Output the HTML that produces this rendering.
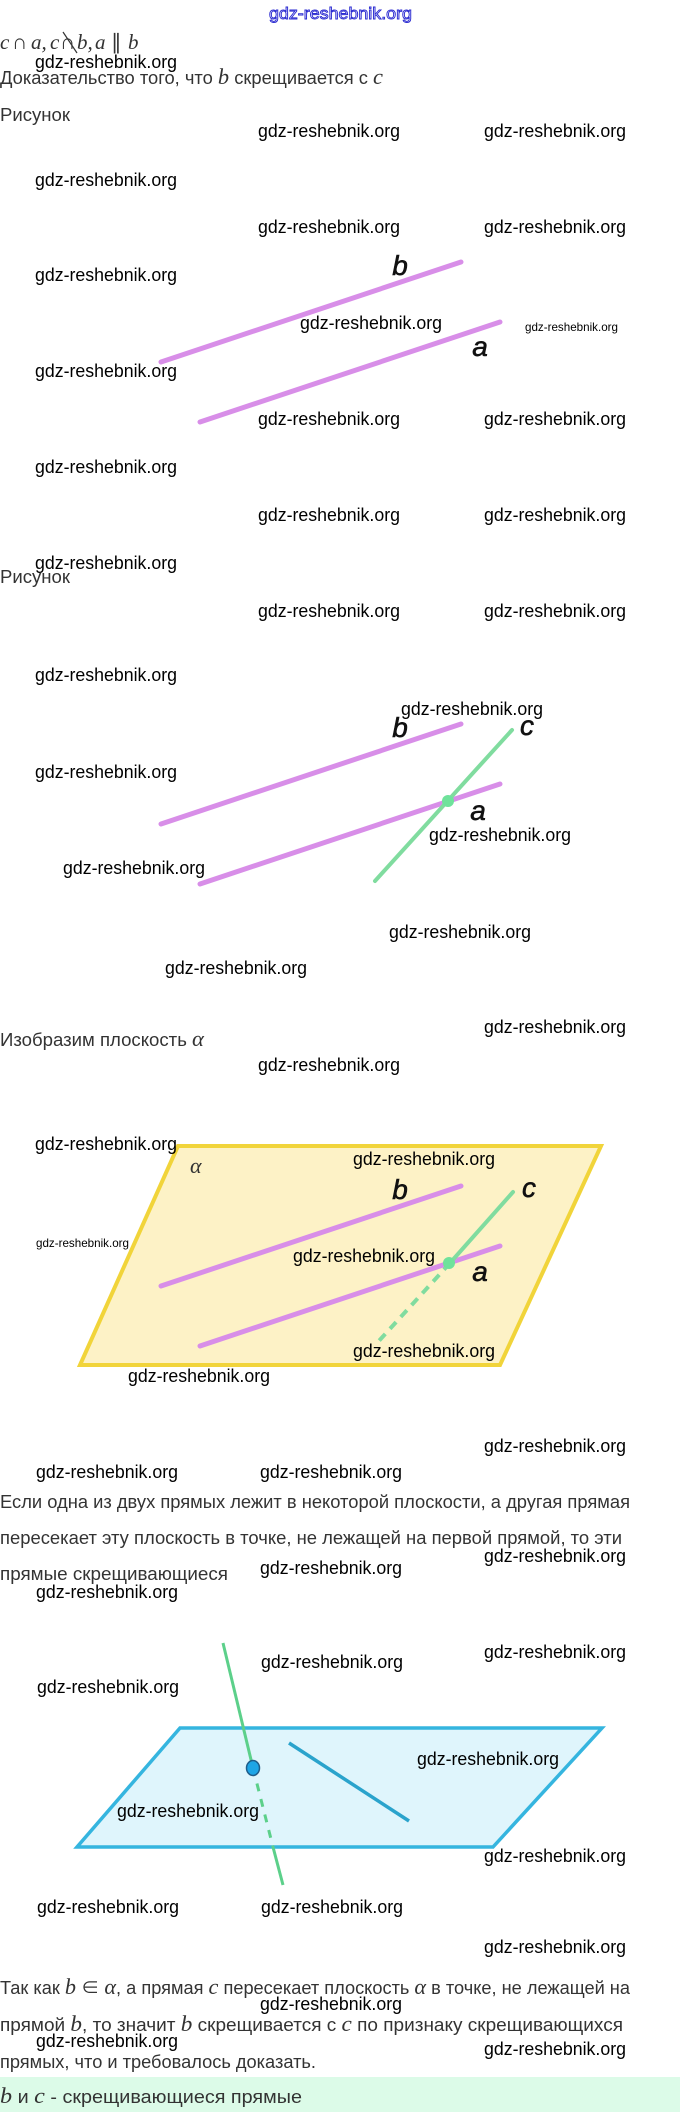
<!DOCTYPE html>
<html>
<head>
<meta charset="utf-8">
<style>
html,body{margin:0;padding:0;background:#fff;}
body{width:680px;height:2112px;overflow:hidden;position:relative;}
svg{position:absolute;left:0;top:0;display:block;}
.t{font-family:"Liberation Sans","Noto Sans CJK SC",sans-serif;font-size:18px;fill:#333;}
.m{font-family:"Liberation Serif",serif;font-style:italic;font-size:21px;fill:#333;}
.w{font-family:"Liberation Sans",sans-serif;font-size:18px;fill:#000;}
.ws{font-family:"Liberation Sans",sans-serif;font-size:12px;fill:#000;}
.lb{font-family:"Liberation Sans",sans-serif;font-style:italic;font-size:28px;fill:#111;stroke:#111;stroke-width:0.6;text-anchor:middle;}
</style>
</head>
<body>
<svg width="680" height="2112" viewBox="0 0 680 2112" xmlns="http://www.w3.org/2000/svg">
  <rect x="0" y="0" width="680" height="2112" fill="#fff"/>

  <!-- top blue watermark -->
  <text x="269" y="19" textLength="143" lengthAdjust="spacingAndGlyphs" style="font-family:'Liberation Sans',sans-serif;font-size:17px;fill:#f0f0ff;stroke:#2a2ad0;stroke-width:0.9;">gdz-reshebnik.org</text>

  <!-- math line -->
  <text class="m" y="49">
    <tspan x="0">c</tspan>
    <tspan x="12" style="font-style:normal">∩</tspan>
    <tspan x="31">a,</tspan>
    <tspan x="50">c</tspan>
    <tspan x="60" style="font-style:normal">∩</tspan>
    <tspan x="77">b,</tspan>
    <tspan x="95">a</tspan>
    <tspan x="111" style="font-style:normal">∥</tspan>
    <tspan x="128">b</tspan>
  </text>
  <line x1="63" y1="32" x2="77" y2="53" stroke="#333" stroke-width="1.2"/>

  <!-- body text -->
  <text class="t" x="0" y="84" textLength="383" lengthAdjust="spacingAndGlyphs">Доказательство того, что <tspan class="m" style="font-size:22px">b</tspan> скрещивается с <tspan class="m" style="font-size:22px">c</tspan></text>
  <text class="t" x="0" y="121" textLength="70" lengthAdjust="spacingAndGlyphs">Рисунок</text>
  <text class="t" x="0" y="583" textLength="70" lengthAdjust="spacingAndGlyphs">Рисунок</text>
  <text class="t" x="0" y="1046" textLength="204" lengthAdjust="spacingAndGlyphs">Изобразим плоскость <tspan class="m" style="font-size:22px">α</tspan></text>

  <text class="t" x="0" y="1508" textLength="630" lengthAdjust="spacingAndGlyphs">Если одна из двух прямых лежит в некоторой плоскости, а другая прямая</text>
  <text class="t" x="0" y="1544" textLength="622" lengthAdjust="spacingAndGlyphs">пересекает эту плоскость в точке, не лежащей на первой прямой, то эти</text>
  <text class="t" x="0" y="1580" textLength="228" lengthAdjust="spacingAndGlyphs">прямые скрещивающиеся</text>

  <text class="t" x="0" y="1994" textLength="630" lengthAdjust="spacingAndGlyphs">Так как <tspan class="m" style="font-size:22px">b</tspan> ∈ <tspan class="m" style="font-size:22px">α</tspan>, а прямая <tspan class="m" style="font-size:22px">c</tspan> пересекает плоскость <tspan class="m" style="font-size:22px">α</tspan> в точке, не лежащей на</text>
  <text class="t" x="0" y="2031" textLength="623" lengthAdjust="spacingAndGlyphs">прямой <tspan class="m" style="font-size:22px">b</tspan>, то значит <tspan class="m" style="font-size:22px">b</tspan> скрещивается с <tspan class="m" style="font-size:22px">c</tspan> по признаку скрещивающихся</text>
  <text class="t" x="0" y="2068" textLength="316" lengthAdjust="spacingAndGlyphs">прямых, что и требовалось доказать.</text>

  <!-- green bar -->
  <rect x="0" y="2077" width="680" height="35" fill="#dcfbe8"/>
  <text class="t" x="0" y="2103" textLength="302" lengthAdjust="spacingAndGlyphs"><tspan class="m" style="font-size:22px">b</tspan> и <tspan class="m" style="font-size:22px">c</tspan> - скрещивающиеся прямые</text>

  <!-- FIGURE 1 -->
  <g stroke="#d88ee8" stroke-width="5" stroke-linecap="round" fill="none">
    <line x1="161" y1="362" x2="461" y2="262"/>
    <line x1="200" y1="422" x2="500" y2="322"/>
  </g>
  <text class="lb" x="400" y="275">b</text>
  <text class="lb" x="480" y="356">a</text>

  <!-- FIGURE 2 -->
  <g stroke="#d88ee8" stroke-width="5" stroke-linecap="round" fill="none">
    <line x1="161" y1="824" x2="461" y2="724"/>
    <line x1="200" y1="884" x2="500" y2="784"/>
  </g>
  <line x1="375" y1="881" x2="512" y2="730" stroke="#80dc9f" stroke-width="4" stroke-linecap="round"/>
  <circle cx="448" cy="801" r="6" fill="#6fe29b"/>
  <text class="lb" x="400" y="737">b</text>
  <text class="lb" x="527" y="735">c</text>
  <text class="lb" x="478" y="820">a</text>

  <!-- FIGURE 3 -->
  <polygon points="178,1146 601,1146 500,1365 80,1365" fill="#fdf2c6" stroke="#f1d43a" stroke-width="4" stroke-linejoin="miter"/>
  <g stroke="#d88ee8" stroke-width="5" stroke-linecap="round" fill="none">
    <line x1="161" y1="1286" x2="461" y2="1186"/>
    <line x1="200" y1="1346" x2="500" y2="1246"/>
  </g>
  <line x1="513" y1="1192" x2="450" y2="1263" stroke="#80dc9f" stroke-width="4" stroke-linecap="round"/>
  <line x1="450" y1="1263" x2="377" y2="1343" stroke="#80dc9f" stroke-width="4" stroke-dasharray="9 7"/>
  <circle cx="449" cy="1263" r="6" fill="#6fe29b"/>
  <text class="lb" x="400" y="1199">b</text>
  <text class="lb" x="529" y="1197">c</text>
  <text class="lb" x="480" y="1281">a</text>
  <text class="m" x="190" y="1173" style="font-size:22px">α</text>

  <!-- FIGURE 4 -->
  <polygon points="180,1728 602,1728 493,1847 77,1847" fill="#dff5fc" stroke="#35b5df" stroke-width="3.5"/>
  <line x1="289" y1="1743" x2="409" y2="1821" stroke="#2aa3cc" stroke-width="3.5"/>
  <line x1="223" y1="1643" x2="253" y2="1768" stroke="#5cd08a" stroke-width="3"/>
  <line x1="253" y1="1768" x2="273" y2="1847" stroke="#5cd08a" stroke-width="3" stroke-dasharray="8 8"/>
  <line x1="273" y1="1847" x2="283" y2="1885" stroke="#5cd08a" stroke-width="3"/>
  <ellipse cx="253" cy="1768" rx="6.5" ry="7.5" fill="#1ea5e6" stroke="#1f5d8a" stroke-width="1.5"/>

  <!-- watermarks -->
  <g class="w">
    <text class="w" x="35" y="68" textLength="142" lengthAdjust="spacingAndGlyphs">gdz-reshebnik.org</text>
    <text class="w" x="258" y="137" textLength="142" lengthAdjust="spacingAndGlyphs">gdz-reshebnik.org</text>
    <text class="w" x="484" y="137" textLength="142" lengthAdjust="spacingAndGlyphs">gdz-reshebnik.org</text>
    <text class="w" x="35" y="186" textLength="142" lengthAdjust="spacingAndGlyphs">gdz-reshebnik.org</text>
    <text class="w" x="258" y="233" textLength="142" lengthAdjust="spacingAndGlyphs">gdz-reshebnik.org</text>
    <text class="w" x="484" y="233" textLength="142" lengthAdjust="spacingAndGlyphs">gdz-reshebnik.org</text>
    <text class="w" x="35" y="281" textLength="142" lengthAdjust="spacingAndGlyphs">gdz-reshebnik.org</text>
    <text class="w" x="300" y="329" textLength="142" lengthAdjust="spacingAndGlyphs">gdz-reshebnik.org</text>
    <text class="ws" x="525" y="331" textLength="93" lengthAdjust="spacingAndGlyphs">gdz-reshebnik.org</text>
    <text class="w" x="35" y="377" textLength="142" lengthAdjust="spacingAndGlyphs">gdz-reshebnik.org</text>
    <text class="w" x="258" y="425" textLength="142" lengthAdjust="spacingAndGlyphs">gdz-reshebnik.org</text>
    <text class="w" x="484" y="425" textLength="142" lengthAdjust="spacingAndGlyphs">gdz-reshebnik.org</text>
    <text class="w" x="35" y="473" textLength="142" lengthAdjust="spacingAndGlyphs">gdz-reshebnik.org</text>
    <text class="w" x="258" y="521" textLength="142" lengthAdjust="spacingAndGlyphs">gdz-reshebnik.org</text>
    <text class="w" x="484" y="521" textLength="142" lengthAdjust="spacingAndGlyphs">gdz-reshebnik.org</text>
    <text class="w" x="35" y="569" textLength="142" lengthAdjust="spacingAndGlyphs">gdz-reshebnik.org</text>
    <text class="w" x="258" y="617" textLength="142" lengthAdjust="spacingAndGlyphs">gdz-reshebnik.org</text>
    <text class="w" x="484" y="617" textLength="142" lengthAdjust="spacingAndGlyphs">gdz-reshebnik.org</text>
    <text class="w" x="35" y="681" textLength="142" lengthAdjust="spacingAndGlyphs">gdz-reshebnik.org</text>
    <text class="w" x="401" y="715" textLength="142" lengthAdjust="spacingAndGlyphs">gdz-reshebnik.org</text>
    <text class="w" x="35" y="778" textLength="142" lengthAdjust="spacingAndGlyphs">gdz-reshebnik.org</text>
    <text class="w" x="429" y="841" textLength="142" lengthAdjust="spacingAndGlyphs">gdz-reshebnik.org</text>
    <text class="w" x="63" y="874" textLength="142" lengthAdjust="spacingAndGlyphs">gdz-reshebnik.org</text>
    <text class="w" x="389" y="938" textLength="142" lengthAdjust="spacingAndGlyphs">gdz-reshebnik.org</text>
    <text class="w" x="165" y="974" textLength="142" lengthAdjust="spacingAndGlyphs">gdz-reshebnik.org</text>
    <text class="w" x="484" y="1033" textLength="142" lengthAdjust="spacingAndGlyphs">gdz-reshebnik.org</text>
    <text class="w" x="258" y="1071" textLength="142" lengthAdjust="spacingAndGlyphs">gdz-reshebnik.org</text>
    <text class="w" x="35" y="1150" textLength="142" lengthAdjust="spacingAndGlyphs">gdz-reshebnik.org</text>
    <text class="w" x="353" y="1165" textLength="142" lengthAdjust="spacingAndGlyphs">gdz-reshebnik.org</text>
    <text class="ws" x="36" y="1247" textLength="93" lengthAdjust="spacingAndGlyphs">gdz-reshebnik.org</text>
    <text class="w" x="293" y="1262" textLength="142" lengthAdjust="spacingAndGlyphs">gdz-reshebnik.org</text>
    <text class="w" x="353" y="1357" textLength="142" lengthAdjust="spacingAndGlyphs">gdz-reshebnik.org</text>
    <text class="w" x="128" y="1382" textLength="142" lengthAdjust="spacingAndGlyphs">gdz-reshebnik.org</text>
    <text class="w" x="484" y="1452" textLength="142" lengthAdjust="spacingAndGlyphs">gdz-reshebnik.org</text>
    <text class="w" x="36" y="1478" textLength="142" lengthAdjust="spacingAndGlyphs">gdz-reshebnik.org</text>
    <text class="w" x="260" y="1478" textLength="142" lengthAdjust="spacingAndGlyphs">gdz-reshebnik.org</text>
    <text class="w" x="484" y="1562" textLength="142" lengthAdjust="spacingAndGlyphs">gdz-reshebnik.org</text>
    <text class="w" x="260" y="1574" textLength="142" lengthAdjust="spacingAndGlyphs">gdz-reshebnik.org</text>
    <text class="w" x="36" y="1598" textLength="142" lengthAdjust="spacingAndGlyphs">gdz-reshebnik.org</text>
    <text class="w" x="484" y="1658" textLength="142" lengthAdjust="spacingAndGlyphs">gdz-reshebnik.org</text>
    <text class="w" x="261" y="1668" textLength="142" lengthAdjust="spacingAndGlyphs">gdz-reshebnik.org</text>
    <text class="w" x="37" y="1693" textLength="142" lengthAdjust="spacingAndGlyphs">gdz-reshebnik.org</text>
    <text class="w" x="417" y="1765" textLength="142" lengthAdjust="spacingAndGlyphs">gdz-reshebnik.org</text>
    <text class="w" x="117" y="1817" textLength="142" lengthAdjust="spacingAndGlyphs">gdz-reshebnik.org</text>
    <text class="w" x="484" y="1862" textLength="142" lengthAdjust="spacingAndGlyphs">gdz-reshebnik.org</text>
    <text class="w" x="37" y="1913" textLength="142" lengthAdjust="spacingAndGlyphs">gdz-reshebnik.org</text>
    <text class="w" x="261" y="1913" textLength="142" lengthAdjust="spacingAndGlyphs">gdz-reshebnik.org</text>
    <text class="w" x="484" y="1953" textLength="142" lengthAdjust="spacingAndGlyphs">gdz-reshebnik.org</text>
    <text class="w" x="260" y="2010" textLength="142" lengthAdjust="spacingAndGlyphs">gdz-reshebnik.org</text>
    <text class="w" x="36" y="2047" textLength="142" lengthAdjust="spacingAndGlyphs">gdz-reshebnik.org</text>
    <text class="w" x="484" y="2055" textLength="142" lengthAdjust="spacingAndGlyphs">gdz-reshebnik.org</text>
  </g>
</svg>
</body>
</html>
